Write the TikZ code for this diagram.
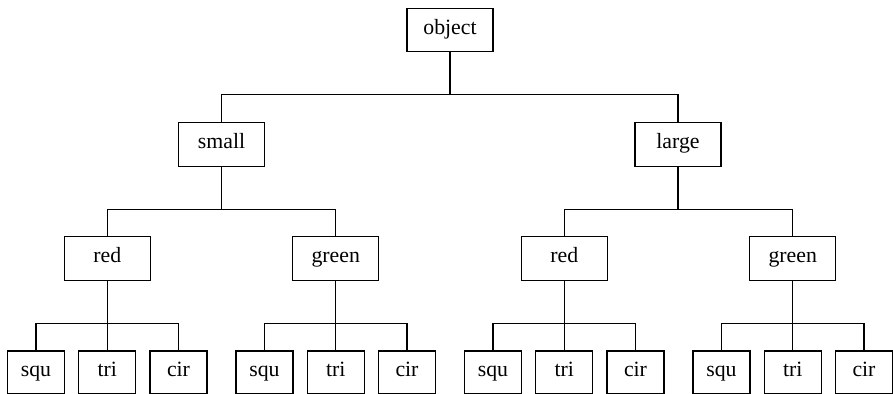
\documentclass[tikz,border=0pt]{standalone}
\usepackage{fontspec}
\setmainfont{Liberation Serif}
\usepackage{tikz}
\usetikzlibrary{positioning}

\tikzset{
  box/.style={draw, line width=0.6pt, minimum width=1.72cm, minimum height=0.87cm, inner sep=0pt,
    text height=0.7em, text depth=0.22em, font=\fontsize{12.4}{15}\selectfont},
  leaf/.style={box, minimum width=1.14cm, minimum height=0.86cm},
  fork/.style={line width=0.6pt}
}

\begin{document}
\begin{tikzpicture}
\useasboundingbox (0,0) rectangle (17.86,-7.88);

% 根节点和第一层
\node[box] (object) at (9.0,-0.6) {object};
\node[box] (small) at (4.43,-2.89) {small};
\node[box] (large) at (13.56,-2.89) {large};

% 第二层
\node[box] (red1) at (2.146,-5.17) {red};
\node[box] (green1) at (6.714,-5.17) {green};
\node[box] (red2) at (11.286,-5.17) {red};
\node[box] (green2) at (15.854,-5.17) {green};

% 叶子节点
\node[leaf] (squ1) at (0.72,-7.45) {squ};
\node[leaf] (tri1) at (2.146,-7.45) {tri};
\node[leaf] (cir1) at (3.57,-7.45) {cir};

\node[leaf] (squ2) at (5.29,-7.45) {squ};
\node[leaf] (tri2) at (6.714,-7.45) {tri};
\node[leaf] (cir2) at (8.14,-7.45) {cir};

\node[leaf] (squ3) at (9.86,-7.45) {squ};
\node[leaf] (tri3) at (11.286,-7.45) {tri};
\node[leaf] (cir3) at (12.71,-7.45) {cir};

\node[leaf] (squ4) at (14.43,-7.45) {squ};
\node[leaf] (tri4) at (15.854,-7.45) {tri};
\node[leaf] (cir4) at (17.28,-7.45) {cir};

% 连线
\draw[fork] (object.south) -- ++(0,-0.85) -| (small.north);
\draw[fork] (object.south) -- ++(0,-0.85) -| (large.north);

\draw[fork] (small.south) -- ++(0,-0.85) -| (red1.north);
\draw[fork] (small.south) -- ++(0,-0.85) -| (green1.north);
\draw[fork] (large.south) -- ++(0,-0.85) -| (red2.north);
\draw[fork] (large.south) -- ++(0,-0.85) -| (green2.north);

\draw[fork] (red1.south) -- ++(0,-0.85) -| (squ1.north);
\draw[fork] (red1.south) -- (tri1.north);
\draw[fork] (red1.south) -- ++(0,-0.85) -| (cir1.north);

\draw[fork] (green1.south) -- ++(0,-0.85) -| (squ2.north);
\draw[fork] (green1.south) -- (tri2.north);
\draw[fork] (green1.south) -- ++(0,-0.85) -| (cir2.north);

\draw[fork] (red2.south) -- ++(0,-0.85) -| (squ3.north);
\draw[fork] (red2.south) -- (tri3.north);
\draw[fork] (red2.south) -- ++(0,-0.85) -| (cir3.north);

\draw[fork] (green2.south) -- ++(0,-0.85) -| (squ4.north);
\draw[fork] (green2.south) -- (tri4.north);
\draw[fork] (green2.south) -- ++(0,-0.85) -| (cir4.north);
\end{tikzpicture}
\end{document}
